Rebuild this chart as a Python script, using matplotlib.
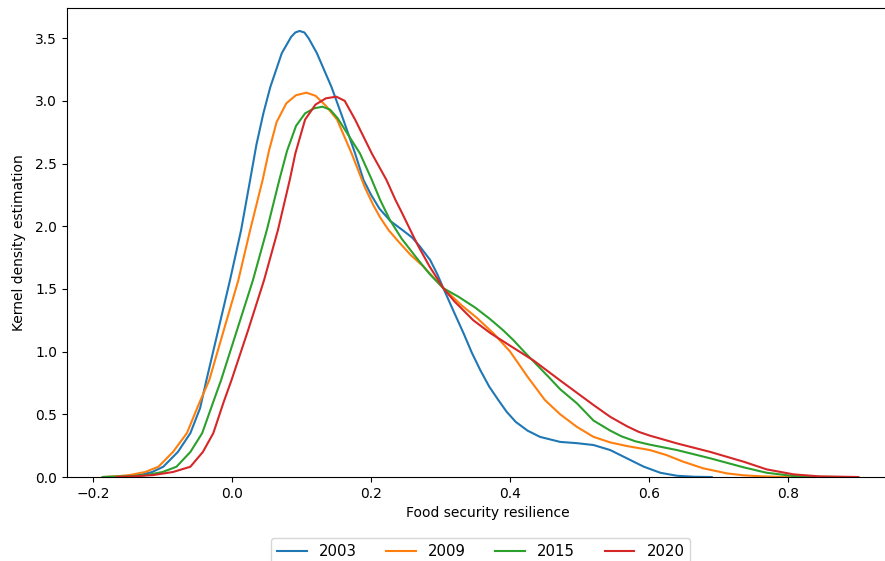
import numpy as np
import matplotlib
matplotlib.use('Agg')
import matplotlib.pyplot as plt

# KDE curves, (x, density) per year
years = ['2003', '2009', '2015', '2020']

x_2003 = [-0.186, -0.160, -0.132, -0.115, -0.099, -0.078, -0.060, -0.046, -0.037, -0.020,
          -0.003, 0.013, 0.026, 0.035, 0.045, 0.055, 0.0715, 0.085, 0.091, 0.097, 0.104,
          0.110, 0.122, 0.143, 0.160, 0.177, 0.189, 0.200, 0.212, 0.228, 0.245, 0.259,
          0.270, 0.285, 0.295, 0.304, 0.318, 0.333, 0.345, 0.357, 0.370, 0.383, 0.395,
          0.408, 0.425, 0.443, 0.472, 0.496, 0.520, 0.544, 0.568, 0.592, 0.616, 0.640,
          0.665, 0.690]
y_2003 = [0.0, 0.004, 0.016, 0.04, 0.082, 0.2, 0.35, 0.55, 0.77, 1.17,
          1.57, 1.97, 2.37, 2.65, 2.90, 3.11, 3.38, 3.51, 3.545, 3.557, 3.545,
          3.50, 3.38, 3.11, 2.85, 2.58, 2.37, 2.25, 2.14, 2.04, 1.97, 1.91,
          1.84, 1.73, 1.62, 1.505, 1.33, 1.146, 0.99, 0.853, 0.72, 0.614, 0.52,
          0.44, 0.37, 0.32, 0.28, 0.27, 0.255, 0.215, 0.149, 0.083, 0.034, 0.01,
          0.002, 0.0]

x_2009 = [-0.186, -0.165, -0.147, -0.125, -0.106, -0.085, -0.065, -0.048, -0.033, -0.012,
          0.009, 0.026, 0.044, 0.053, 0.064, 0.078, 0.092, 0.107, 0.120, 0.135, 0.151,
          0.172, 0.191, 0.203, 0.213, 0.225, 0.239, 0.257, 0.275, 0.304, 0.330, 0.352,
          0.376, 0.400, 0.425, 0.450, 0.472, 0.496, 0.520, 0.544, 0.568, 0.601, 0.625,
          0.649, 0.678, 0.712, 0.735, 0.760, 0.785, 0.815]
y_2009 = [0.0, 0.006, 0.016, 0.04, 0.082, 0.2, 0.35, 0.58, 0.77, 1.17,
          1.57, 1.97, 2.37, 2.60, 2.83, 2.98, 3.045, 3.065, 3.04, 2.96, 2.85,
          2.58, 2.31, 2.17, 2.07, 1.97, 1.88, 1.77, 1.68, 1.505, 1.37, 1.27,
          1.146, 1.00, 0.80, 0.614, 0.50, 0.40, 0.32, 0.276, 0.247, 0.215, 0.175,
          0.122, 0.069, 0.029, 0.014, 0.006, 0.002, 0.0]

x_2015 = [-0.186, -0.160, -0.140, -0.123, -0.100, -0.080, -0.060, -0.043, -0.027, -0.016,
          0.007, 0.030, 0.050, 0.068, 0.079, 0.092, 0.105, 0.118, 0.130, 0.141, 0.152,
          0.168, 0.184, 0.201, 0.213, 0.227, 0.244, 0.265, 0.284, 0.304, 0.325, 0.350,
          0.371, 0.390, 0.405, 0.420, 0.434, 0.455, 0.472, 0.496, 0.520, 0.544, 0.560,
          0.580, 0.601, 0.640, 0.688, 0.736, 0.769, 0.808, 0.840, 0.879]
y_2015 = [0.0, 0.004, 0.009, 0.016, 0.04, 0.082, 0.2, 0.35, 0.60, 0.77,
          1.17, 1.57, 1.97, 2.37, 2.60, 2.80, 2.90, 2.94, 2.953, 2.93, 2.86,
          2.72, 2.58, 2.37, 2.21, 2.05, 1.90, 1.75, 1.62, 1.505, 1.44, 1.35,
          1.26, 1.17, 1.09, 1.00, 0.92, 0.80, 0.70, 0.588, 0.45, 0.37, 0.325,
          0.285, 0.258, 0.215, 0.149, 0.077, 0.034, 0.008, 0.002, 0.0]

x_2020 = [-0.166, -0.145, -0.128, -0.113, -0.085, -0.060, -0.042, -0.027, -0.012, -0.001,
          0.023, 0.046, 0.066, 0.083, 0.091, 0.105, 0.120, 0.135, 0.150, 0.162, 0.177,
          0.201, 0.222, 0.235, 0.245, 0.259, 0.268, 0.284, 0.304, 0.320, 0.347, 0.372,
          0.400, 0.434, 0.472, 0.520, 0.544, 0.568, 0.585, 0.601, 0.620, 0.640, 0.688,
          0.736, 0.769, 0.808, 0.845, 0.901]
y_2020 = [0.0, 0.004, 0.01, 0.016, 0.04, 0.082, 0.2, 0.35, 0.60, 0.77,
          1.17, 1.57, 1.97, 2.37, 2.58, 2.85, 2.97, 3.02, 3.033, 3.00, 2.85,
          2.58, 2.37, 2.21, 2.10, 1.94, 1.84, 1.68, 1.505, 1.40, 1.25, 1.146,
          1.047, 0.928, 0.77, 0.574, 0.48, 0.405, 0.36, 0.33, 0.30, 0.268, 0.20,
          0.122, 0.061, 0.021, 0.005, 0.0]

curves = [(x_2003, y_2003), (x_2009, y_2009), (x_2015, y_2015), (x_2020, y_2020)]
colors = ['#1f77b4', '#ff7f0e', '#2ca02c', '#d62728']

fig = plt.figure(figsize=(8.85, 5.61), dpi=100)
ax = fig.add_axes([0.0757, 0.1497, 0.95, 0.836])

for (xs, ys), c, lab in zip(curves, colors, years):
    ax.plot(xs, ys, color=c, lw=1.5, label=lab)

ax.set_xlim(-0.2375, 0.972)
ax.set_ylim(0, 3.74)
ax.set_xticks([-0.2, 0.0, 0.2, 0.4, 0.6, 0.8])
ax.set_yticks(np.arange(0, 3.51, 0.5))
ax.set_xlabel('Food security resilience')
ax.set_ylabel('Kernel density estimation', labelpad=7)

# legend sits centred under the plot part, partly cut off at the bottom
ax.legend(loc='upper center', bbox_to_anchor=(0.492, -0.115), ncol=4, fontsize=10.7)

fig.savefig('out.png', dpi=100)
